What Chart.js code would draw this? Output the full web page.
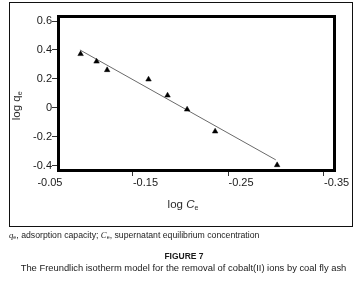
<!DOCTYPE html>
<html>
<head>
<meta charset="utf-8">
<script src="https://cdn.jsdelivr.net/npm/chart.js@4.4.1/dist/chart.umd.min.js"></script>
<style>
  html, body { margin:0; padding:0; background:#fff; }
  #wrap { position:relative; width:360px; height:284px; overflow:hidden; font-family:"Liberation Sans", Arial, sans-serif; }
  #c { position:absolute; left:0; top:0; }
  #frame { position:absolute; left:9px; top:2px; width:344px; height:225px; border:1px solid #111; box-sizing:border-box; }
  .t { position:absolute; white-space:nowrap; color:#2a2a2a; line-height:1; }
  sub { font-size:0.62em; vertical-align:-0.25em; line-height:0; }
  .serif { font-family:"Liberation Serif", "Times New Roman", serif; font-style:italic; }
</style>
</head>
<body>
<div id="wrap">
  <canvas id="c" width="360" height="284"></canvas>
  <div id="frame"></div>
  <div class="t" id="ytitle" style="font-size:11.5px;left:-33px;top:100px;width:100px;text-align:center;transform:rotate(-90deg);transform-origin:50% 50%;">log q<sub>e</sub></div>
  <div class="t" id="xtitle" style="font-size:11.5px;left:133px;top:199px;width:100px;text-align:center;">log <i>C</i><sub>e</sub></div>
  <div class="t" id="cap" style="font-size:8.7px;left:9px;top:231px;color:#222;">
    <span class="serif">q</span><sub>e</sub>, adsorption capacity; <span class="serif">C</span><sub>e</sub>, supernatant equilibrium concentration</div>
  <div class="t" id="fig" style="font-size:8.5px;font-weight:bold;left:0;top:252px;width:368px;text-align:center;color:#1a1a1a;">FIGURE 7</div>
  <div class="t" id="sub" style="font-size:9.4px;left:0;top:263px;width:367px;text-align:center;color:#1a1a1a;">The Freundlich isotherm model for the removal of cobalt(II) ions by coal fly ash</div>
</div>
<script>
// ---- data ----
const logCe = [-0.0957, -0.1124, -0.1235, -0.1668, -0.1867, -0.2072, -0.2365, -0.3014];
const logQe = [0.372, 0.320, 0.261, 0.196, 0.085, -0.012, -0.164, -0.397];
const fitX = [-0.095, -0.300];
const fitY = [0.400, -0.361];
const xTickValues = [-0.05, -0.15, -0.25, -0.35];
const xTickLabels = ['-0.05', '-0.15', '-0.25', '-0.35'];
const yTickValues = [0.6, 0.4, 0.2, 0, -0.2, -0.4];
const yTickLabels = ['0.6', '0.4', '0.2', '0', '-0.2', '-0.4'];

const points = logCe.map((x, i) => ({ x: x, y: logQe[i] }));
const fitLine = fitX.map((x, i) => ({ x: x, y: fitY[i] }));

const boxPlugin = {
  id: 'box',
  afterDraw(chart) {
    const a = chart.chartArea, ctx = chart.ctx;
    ctx.save();
    ctx.strokeStyle = '#000';
    ctx.lineWidth = 3;
    ctx.strokeRect(a.left + 1.5, a.top + 1.5, a.right - a.left - 3, a.bottom - a.top - 3);
    ctx.restore();
  }
};

const tickFont = { family: '"Liberation Sans", Arial, sans-serif', size: 11 };

new Chart(document.getElementById('c'), {
  type: 'scatter',
  data: {
    datasets: [
      {
        type: 'line',
        data: fitLine,
        borderColor: '#6a6a6a',
        borderWidth: 1,
        pointRadius: 0,
        fill: false,
        order: 2
      },
      {
        data: points,
        pointStyle: 'triangle',
        pointRadius: 3.2,
        backgroundColor: '#000',
        borderColor: '#000',
        borderWidth: 0.5,
        order: 1
      }
    ]
  },
  plugins: [boxPlugin],
  options: {
    responsive: false,
    devicePixelRatio: 1,
    animation: false,
    layout: { padding: { left: 0, top: 15, right: 24, bottom: 92 } },
    plugins: { legend: { display: false }, tooltip: { enabled: false }, title: { display: false } },
    scales: {
      x: {
        type: 'linear',
        min: -0.363,
        max: -0.071,
        reverse: true,
        afterBuildTicks: s => { s.ticks = xTickValues.map(v => ({ value: v })); },
        afterFit: s => { s.height = 20; },
        border: { display: false },
        grid: {
          drawOnChartArea: false,
          tickLength: 4,
          tickColor: c => (c.tick && c.tick.value === -0.05) ? 'rgba(0,0,0,0)' : '#333'
        },
        ticks: {
          autoSkip: false,
          maxRotation: 0,
          labelOffset: 13,
          padding: 0,
          font: tickFont,
          color: '#1a1a1a',
          callback: (v, i) => xTickLabels[i]
        }
      },
      y: {
        type: 'linear',
        min: -0.445,
        max: 0.642,
        afterBuildTicks: s => { s.ticks = yTickValues.map(v => ({ value: v })); },
        afterFit: s => { s.width = 57; },
        border: { display: false },
        grid: { drawOnChartArea: false, tickLength: 5, tickColor: '#333' },
        ticks: {
          autoSkip: false,
          padding: 0,
          font: tickFont,
          color: '#1a1a1a',
          callback: (v, i) => yTickLabels[i]
        }
      }
    }
  }
});
</script>
</body>
</html>
